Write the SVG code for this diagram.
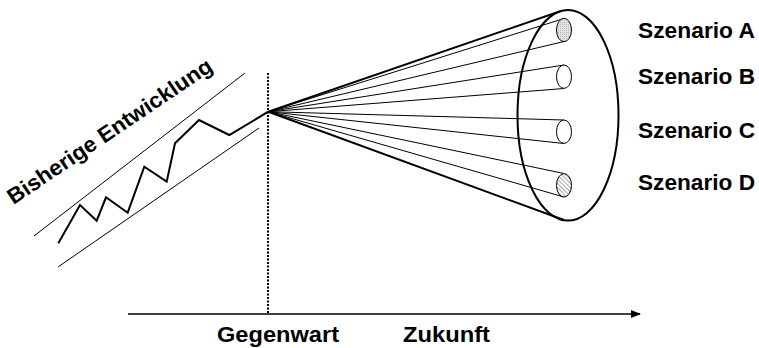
<svg xmlns="http://www.w3.org/2000/svg" width="759" height="348" viewBox="0 0 759 348">
<style>
.lbl{font-family:"Liberation Sans",Arial,sans-serif;font-weight:bold;font-size:22px;fill:#000}
.thin{stroke:#000;stroke-width:1;fill:none}
.thick{stroke:#000;stroke-width:2;fill:none}
</style>
<defs>
<pattern id="hatch" width="3" height="3" patternUnits="userSpaceOnUse" patternTransform="rotate(-45)">
<rect width="3" height="3" fill="#fff"/>
<line x1="0" y1="0" x2="0" y2="3" stroke="#555" stroke-width="1"/>
</pattern>
<pattern id="dots" width="2" height="2" patternUnits="userSpaceOnUse">
<rect width="2" height="2" fill="#e4e4e4"/>
<rect width="1" height="1" fill="#b8b8b8"/>
</pattern>
<marker id="arr" markerWidth="10" markerHeight="8" refX="9" refY="4" orient="auto" markerUnits="userSpaceOnUse">
<path d="M0,0 L10,4 L0,8 Z" fill="#000"/>
</marker>
</defs>
<rect width="759" height="348" fill="#fff"/>

<g id="history">
<line class="thin" x1="34" y1="236" x2="245" y2="73"/>
<line class="thin" x1="58" y1="267" x2="259" y2="128"/>
<polyline class="thick" points="58.3,243.3 80,205 96.7,220.7 106,197.3 127.7,212.7 144.3,166.7 166.7,181.7 175,143.3 199,120 229.3,135 268.3,111.7"/>
<text class="lbl" transform="translate(13.5,205) rotate(-34)" textLength="242" lengthAdjust="spacingAndGlyphs">Bisherige Entwicklung</text>
</g>

<g id="now-line">
<line x1="268" y1="73" x2="268" y2="314" stroke="#000" stroke-width="2" stroke-dasharray="2 1.5"/>
</g>

<g id="connectors">
<line class="thin" x1="268.3" y1="111.7" x2="564" y2="18.5"/>
<line class="thin" x1="268.3" y1="111.7" x2="564" y2="41.5"/>
<line class="thin" x1="268.3" y1="111.7" x2="564" y2="65"/>
<line class="thin" x1="268.3" y1="111.7" x2="564" y2="88.5"/>
<line class="thin" x1="268.3" y1="111.7" x2="564" y2="120"/>
<line class="thin" x1="268.3" y1="111.7" x2="564" y2="143.5"/>
<line class="thin" x1="268.3" y1="111.7" x2="564" y2="173.5"/>
<line class="thin" x1="268.3" y1="111.7" x2="564" y2="197"/>
<line class="thick" x1="268.3" y1="111.7" x2="561" y2="11"/>
<line class="thick" x1="268.3" y1="111.7" x2="564" y2="220"/>
</g>

<g id="cone">
<ellipse class="thick" cx="568" cy="115.3" rx="50.5" ry="105.3"/>
</g>

<g id="scenario-a">
<ellipse cx="564" cy="30" rx="7.5" ry="11.7" fill="url(#dots)" stroke="#000" stroke-width="1"/>
<text class="lbl" x="638" y="38" textLength="117" lengthAdjust="spacingAndGlyphs">Szenario A</text>
</g>
<g id="scenario-b">
<ellipse cx="564" cy="76.7" rx="7.5" ry="11.7" fill="#fff" stroke="#000" stroke-width="1"/>
<text class="lbl" x="638" y="84" textLength="117" lengthAdjust="spacingAndGlyphs">Szenario B</text>
</g>
<g id="scenario-c">
<ellipse cx="564" cy="131.7" rx="7.5" ry="11.7" fill="#fff" stroke="#000" stroke-width="1"/>
<text class="lbl" x="638" y="137.5" textLength="117" lengthAdjust="spacingAndGlyphs">Szenario C</text>
</g>
<g id="scenario-d">
<ellipse cx="564" cy="185.3" rx="7.5" ry="11.7" fill="url(#hatch)" stroke="#000" stroke-width="1"/>
<text class="lbl" x="638" y="190" textLength="117" lengthAdjust="spacingAndGlyphs">Szenario D</text>
</g>

<g id="axis">
<line x1="128" y1="314" x2="640" y2="314" stroke="#000" stroke-width="1.5" marker-end="url(#arr)"/>
<text class="lbl" x="217" y="342" textLength="122" lengthAdjust="spacingAndGlyphs">Gegenwart</text>
<text class="lbl" x="403" y="342" textLength="87" lengthAdjust="spacingAndGlyphs">Zukunft</text>
</g>
</svg>
